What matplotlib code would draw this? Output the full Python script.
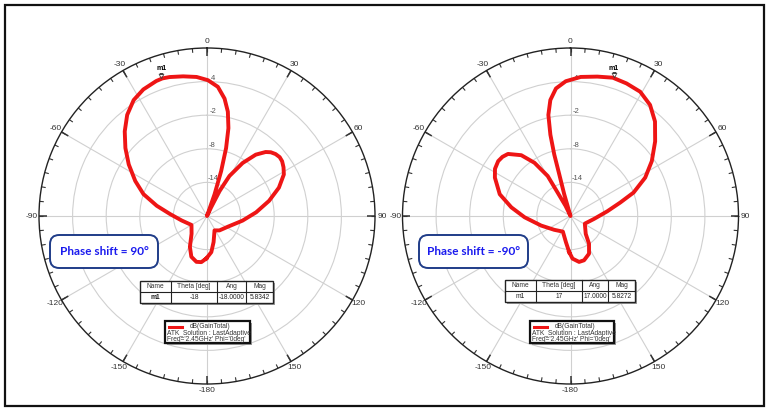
import numpy as np
import matplotlib
matplotlib.use("Agg")
import matplotlib.pyplot as plt
from matplotlib.patches import Rectangle, FancyBboxPatch

# radiation pattern (theta in deg, gain in dB)
theta_left = [-179, -173, -167, -159, -151, -139, -120, -100, -87, -78.5, -71, -64, -56.6,
              -50.2, -44.2, -38.3, -32.3, -26.7, -20.6, -18, -15.1, -9.7, -4.3, 0.4, 4.8, 8.5,
              11.3, 13.7, 15.7, 17.5, 19.2, 21, 24, 25.5, 26.6, 29.3, 33.9, 38.5, 42.5, 45, 47.9,
              51, 53.9, 57.5, 61.6, 68.5, 76.3, 85.7, 97.4, 117, 139.2, 152.4, 165.8, 173.2]
gain_left = [-12.4, -11.7, -11.6, -12.2, -13.7, -15.8, -16.8, -15.4, -13.4, -10.85, -8.0, -5.75, -3.26,
             -1.03, 1.07, 3.0, 4.5, 5.3, 5.75, 5.83, 5.7, 5.3, 4.9, 4.25, 3.15, 1.2,
             -1.0, -3.85, -7.4, -11.6, -15.9, -20.0, -20.0, -18.3, -15.0, -11.8, -8.6, -6.0, -4.5, -3.9, -3.5,
             -3.3, -3.4, -3.8, -4.4, -6.2, -8.6, -11.2, -13.6, -15.8, -16.6, -17.1, -15.2, -13.5]

theta_right = [-177.9, -170, -153.9, -130.6, -108, -91.6, -81.7, -72.9, -63.1, -58, -52.8, -49, -45.2, -39,
               -34.1, -29.7, -28.8, -26, -22, -19, -16.1, -15.1, -14.8, -13.9, -12.35, -9.86,
               -6.5, -2, 4.2, 10.9, 17, 22.9, 29.3, 35.6, 41.8, 48.6, 56, 62.8, 69.6, 74.8,
               82.8, 97.2, 118.1, 139.6, 146.3, 153.8, 163, 169.4, 177.3]
gain_right = [-13.56, -15.27, -16.9, -16.2, -14.48, -11.8, -9.33, -6.78, -4.86, -4.1, -3.79, -3.9, -4.27, -6.03,
              -8.53, -11.78, -15.2, -18.0, -20.0, -20.0, -15.95, -12.3, -8.65, -5.04, -1.52, 1.02,
              2.92, 4.08, 4.9, 5.35, 5.8272, 5.7, 5.44, 4.4, 2.64, 0.15, -2.49, -5.0, -7.98, -10.77,
              -13.4, -15.78, -17.1, -15.8, -14.04, -12.5, -11.73, -11.66, -12.38]

marker_left = (-18, 5.8342)
marker_right = (17, 5.8272)

ang_labels = ['0', '30', '60', '90', '120', '150', '-180', '-150', '-120', '-90', '-60', '-30']
r_ticks = [-14, -8, -2, 4]
r_labels = ['-14', '-8', '-2', '4']

table_head = ['Name', 'Theta [deg]', 'Ang', 'Mag']
table_left = ['m1', '-18', '-18.0000', '5.8342']
table_right = ['m1', '17', '17.0000', '5.8272']

legend_lines = ['dB(GainTotal)', 'ATK_Solution : LastAdaptive', "Freq='2.45GHz' Phi='0deg'"]

W, H = 770, 411
fig = plt.figure(figsize=(W / 100, H / 100), dpi=100)
small = ['Liberation Sans', 'DejaVu Sans']


def px(x, y):
    return x / W, 1 - y / H


def polar_panel(cx, cy, th, g, mk):
    R = 168
    ax = fig.add_axes([(cx - R) / W, (H - cy - R) / H, 2 * R / W, 2 * R / H], projection='polar')
    ax.set_theta_zero_location('N')
    ax.set_theta_direction(-1)
    ax.set_ylim(-20, 10)
    ax.set_xticks(np.deg2rad(np.arange(0, 360, 30)))
    ax.set_xticklabels(ang_labels, fontsize=6, color='#333333', family=small)
    ax.tick_params(axis='x', which='major', direction='in', pad=-2)
    # inward tick marks on the outer ring, every 5 deg, longer every 30 deg
    ax.vlines(np.deg2rad(np.arange(0, 360, 5)), 9.25, 10, color='#333333', lw=0.8, clip_on=False)
    ax.vlines(np.deg2rad(np.arange(0, 360, 30)), 8.6, 10, color='#333333', lw=1.1, clip_on=False)
    ax.set_yticks(r_ticks)
    ax.set_yticklabels(r_labels, fontsize=5.5, color='#555555', family=small)
    ax.set_rlabel_position(1.5)
    ax.grid(True, color='#d0d0d0', lw=0.8)
    ax.set_ylim(-20, 10)
    ax.spines['polar'].set_color('#222222')
    ax.spines['polar'].set_linewidth(1.0)
    t = np.deg2rad(th + th[:1])
    ax.plot(t, g + g[:1], color='#ee1515', lw=2.8, solid_joinstyle='round')
    ax.plot(np.deg2rad(mk[0]), mk[1] + 0.5, marker='v', ms=3.5, mfc='none', mec='#444444', mew=0.6)
    ax.annotate('m1', (np.deg2rad(mk[0]), mk[1] + 0.5), xytext=(0, 2.5), textcoords='offset points',
                ha='center', va='bottom', fontsize=5, fontweight='bold', family=small)
    return ax


def draw_table(x0, y0, widths, row, bold):
    rh = 11
    tot = sum(widths)
    fig.patches.append(Rectangle(px(x0 + 2, y0 + 2 * rh + 2), (tot) / W, 2 * rh / H,
                                 transform=fig.transFigure, fc='#9a9a9a', ec='none', zorder=5))
    fig.patches.append(Rectangle(px(x0, y0 + 2 * rh), tot / W, 2 * rh / H,
                                 transform=fig.transFigure, fc='white', ec='#222222', lw=1.0, zorder=6))
    fig.lines.append(plt.Line2D([x0 / W, (x0 + tot) / W], [1 - (y0 + rh) / H] * 2,
                                transform=fig.transFigure, color='#222222', lw=0.8, zorder=7))
    x = x0
    for i, w in enumerate(widths):
        if i > 0:
            fig.lines.append(plt.Line2D([x / W] * 2, [1 - y0 / H, 1 - (y0 + 2 * rh) / H],
                                        transform=fig.transFigure, color='#222222', lw=0.8, zorder=7))
        fig.text(*px(x + w / 2, y0 + rh / 2), table_head[i], ha='center', va='center',
                 fontsize=4.8, color='#333333', family=small, zorder=8)
        fig.text(*px(x + w / 2, y0 + rh * 1.5), row[i], ha='center', va='center', fontsize=4.8,
                 color='#222222', family=small, zorder=8,
                 fontweight='bold' if (bold and i == 0) else 'normal')
        x += w


def draw_legend(x0, y0, w, h):
    fig.patches.append(Rectangle(px(x0 + 2, y0 + h + 2), w / W, h / H,
                                 transform=fig.transFigure, fc='#9a9a9a', ec='none', zorder=5))
    fig.patches.append(Rectangle(px(x0, y0 + h), w / W, h / H,
                                 transform=fig.transFigure, fc='white', ec='#111111', lw=1.6, zorder=6))
    fig.lines.append(plt.Line2D([(x0 + 4) / W, (x0 + 17) / W], [1 - (y0 + 6) / H] * 2,
                                transform=fig.transFigure, color='#ee1515', lw=2.2, zorder=7))
    fig.text(*px(x0 + 25, y0 + 5.5), legend_lines[0], ha='left', va='center', fontsize=4.8,
             color='#333333', family=small, zorder=8)
    fig.text(*px(x0 + 2, y0 + 12), legend_lines[1], ha='left', va='center', fontsize=4.8,
             color='#333333', family=small, zorder=8)
    fig.text(*px(x0 + 2, y0 + 18.5), legend_lines[2], ha='left', va='center', fontsize=4.8,
             color='#333333', family=small, zorder=8)


def phase_box(x0, y0, w, h, label):
    fig.patches.append(FancyBboxPatch(px(x0, y0 + h), w / W, h / H,
                                      boxstyle='round,pad=0,rounding_size=0.012',
                                      transform=fig.transFigure, fc='white', ec='#1f3c88', lw=1.4,
                                      zorder=6, mutation_aspect=W / H))
    fig.text(*px(x0 + w / 2, y0 + h / 2), label, ha='center', va='center', fontsize=8.5,
             fontweight='bold', color='#1a1aee', family=['Lato', 'DejaVu Sans'], zorder=8)


polar_panel(207, 216, theta_left, gain_left, marker_left)
polar_panel(570.5, 216, theta_right, gain_right, marker_right)

draw_table(140, 281, [31, 46, 29, 27], table_left, True)
draw_table(505, 280, [31, 46, 26, 27], table_right, False)
draw_legend(165, 321, 85, 22)
draw_legend(530, 321, 84, 22)
phase_box(50, 235, 108, 33, 'Phase shift = 90°')
phase_box(419, 235, 109, 33, 'Phase shift = -90°')

# outer frame
fig.patches.append(Rectangle(px(5, 406), 759 / W, 401 / H, transform=fig.transFigure,
                             fc='none', ec='#111111', lw=1.6, zorder=10))

fig.savefig('out.png', dpi=100)
